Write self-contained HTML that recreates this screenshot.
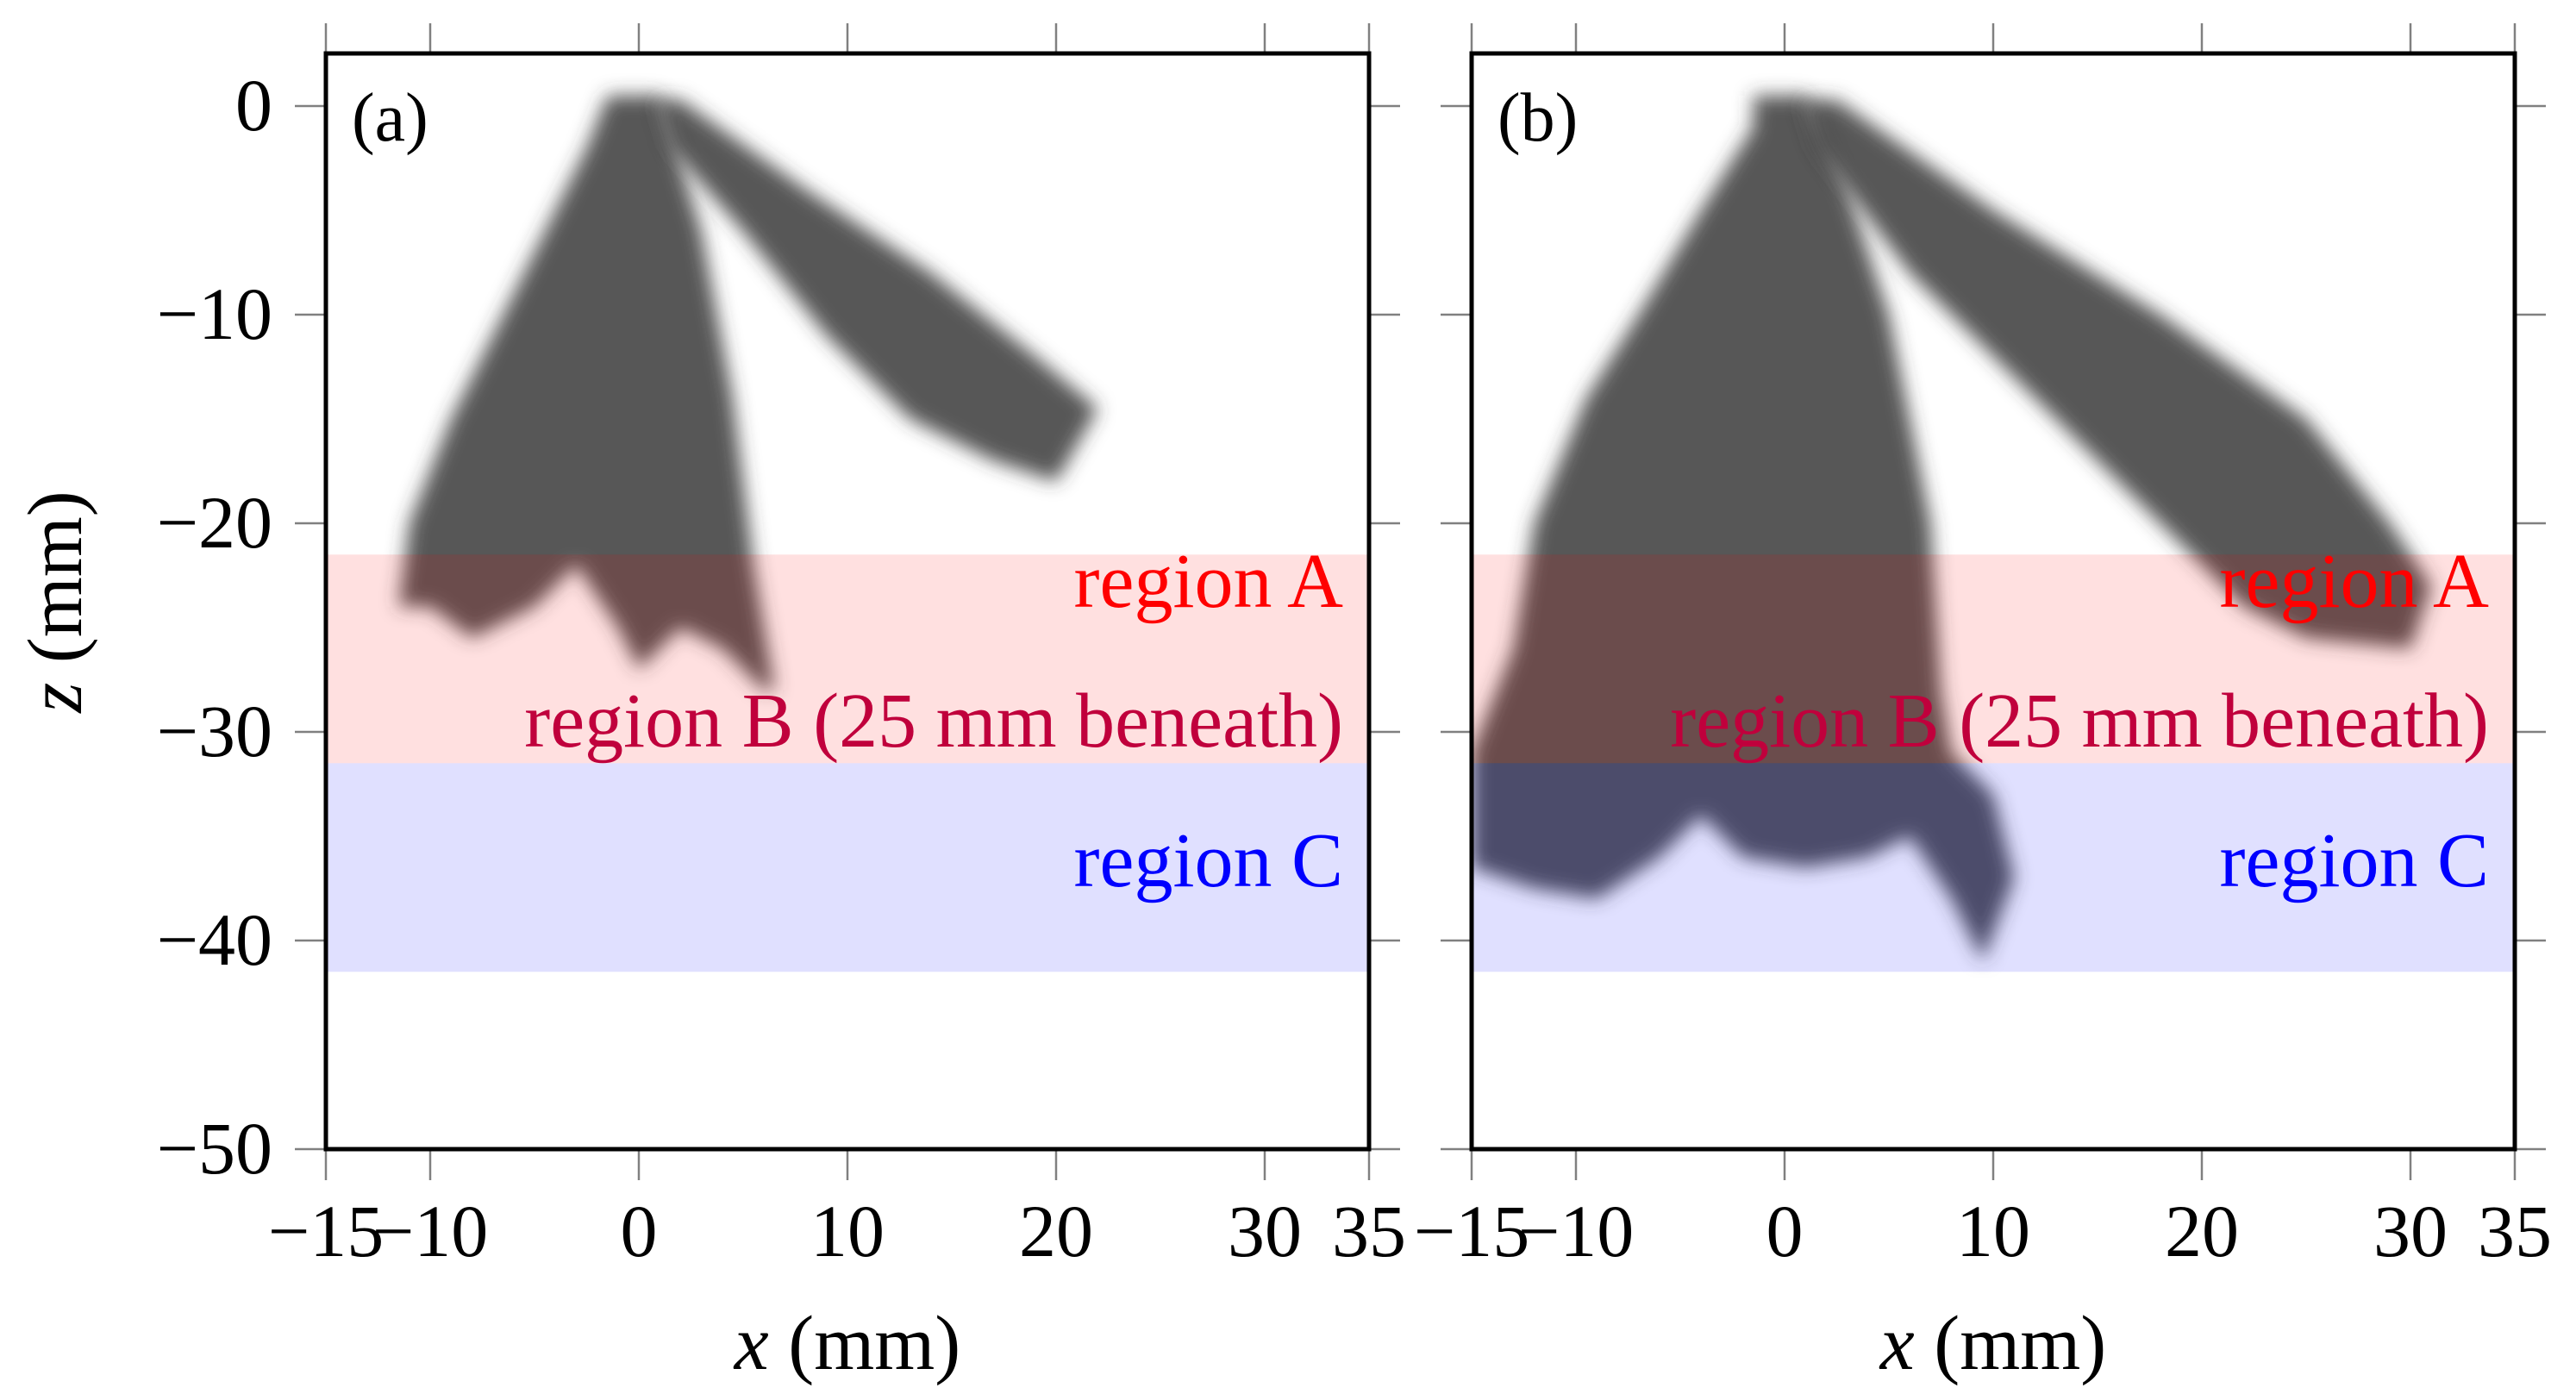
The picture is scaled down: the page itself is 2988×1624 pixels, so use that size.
<!DOCTYPE html>
<html><head><meta charset="utf-8"><style>
html,body{margin:0;padding:0;background:#fff;}
svg{display:block;font-family:"Liberation Serif",serif;}
</style></head><body>
<svg id="fig" width="2988" height="1624" viewBox="0 0 2988 1624">
<defs>
<filter id="blur" x="-20%" y="-20%" width="140%" height="140%"><feGaussianBlur stdDeviation="11"/></filter>
<clipPath id="clipA"><rect x="378" y="62" width="1210" height="1271"/></clipPath>
<clipPath id="clipB"><rect x="1707" y="62" width="1210" height="1271"/></clipPath>
</defs>
</svg>
<script>
const xTicks=[-15,-10,0,10,20,30,35];
const zTicks=[0,-10,-20,-30,-40,-50];
const regionNames=["region A","region B (25 mm beneath)","region C"];
const regionTop=[-21.5,-21.5,-31.5];
const regionBottom=[-31.5,-31.5,-41.5];
const regionLabelZ=[-24,-30.7,-37.4];
const regionColors=["#ff0000","#c0003c","#0000ff"];
const panelLabels=["(a)","(b)"];
// plume outlines (mm): panel a
const plumeA1x=[-1.5,1,3,4.5,5.5,6.5,6,4,2,0,-1,-3,-5,-8,-10,-11.5,-11,-9,-5.5,-2.5];
const plumeA1z=[0.5,0.5,-6,-14,-22,-28,-28,-26,-25,-27,-25,-22,-24,-25.5,-24,-24,-20,-15,-8,-2];
const plumeA2x=[0.8,2,8,14,19,22,20,17,13,9,5,1.5];
const plumeA2z=[0.3,0.3,-4,-8,-12,-14.5,-18,-17,-15,-11,-6,-2];
// panel b
const plumeB1x=[-1.5,1,3,5,7,7.5,8,10,11,9.5,8,6,4,1,-2,-4,-6,-9,-12,-15,-15,-13,-12,-9.5,-7,-4,-1.5];
const plumeB1z=[0.5,0.5,-4,-10,-20,-28,-31,-33,-37,-41,-38,-35,-36,-36.5,-36,-34,-36,-38,-37.5,-36.5,-31,-26,-20,-14,-10,-5,-1];
const plumeB2x=[0.8,2.5,10,18,25,29,31,30,25,22,18,12,6,1.5];
const plumeB2z=[0.3,0.3,-5,-10,-15,-20,-23,-26,-25.5,-24,-20,-14,-8,-2];

const svg=document.getElementById('fig');
const NS='http://www.w3.org/2000/svg';
const panels=[{x0:378,clip:'clipA',plumes:[[plumeA1x,plumeA1z],[plumeA2x,plumeA2z]]},
              {x0:1707,clip:'clipB',plumes:[[plumeB1x,plumeB1z],[plumeB2x,plumeB2z]]}];
const PX=24.2, Y0=123, TOP=62, BOT=1333, W=1210;
function zy(z){return Y0-z*PX;}
function mk(tag,attrs,parent){const e=document.createElementNS(NS,tag);for(const k in attrs)e.setAttribute(k,attrs[k]);(parent||svg).appendChild(e);return e;}

panels.forEach((p,pi)=>{
  const xx=v=>p.x0+(v+15)*PX;
  const g=mk('g',{'clip-path':'url(#'+p.clip+')'});
  
  
  p.plumes.forEach((pl,k)=>{
    const pts=pl[0].map((v,i)=>xx(v).toFixed(1)+','+zy(pl[1][i]).toFixed(1)).join(' ');
    const poly=mk('polygon',{points:pts,fill:'#3a3a3a','fill-opacity':'0.85',filter:'url(#blur)'},g);
    
    
  });
  [[regionTop[0],regionBottom[0],'rgba(255,0,0,0.12)'],[regionTop[2],regionBottom[2],'rgba(0,0,255,0.12)']].forEach((r,k)=>{
    const rc=mk('rect',{x:p.x0,y:zy(r[0]),width:W,height:zy(r[1])-zy(r[0]),fill:r[2]},g);
    
    
  });
  xTicks.forEach(t=>{
    const X=xx(t);
    mk('line',{x1:X,x2:X,y1:TOP-35,y2:TOP,stroke:'#808080','stroke-width':2.5});
    mk('line',{x1:X,x2:X,y1:BOT,y2:BOT+36,stroke:'#808080','stroke-width':2.5});
    const tx=mk('text',{x:X,y:1457,'font-size':86,'text-anchor':'middle'});
    tx.textContent=t<0?'\u2212'+(-t):String(t);
    
    
  });
  zTicks.forEach(t=>{
    const Y=zy(t);
    mk('line',{x1:p.x0-36,x2:p.x0,y1:Y,y2:Y,stroke:'#808080','stroke-width':2.5});
    mk('line',{x1:p.x0+W,x2:p.x0+W+36,y1:Y,y2:Y,stroke:'#808080','stroke-width':2.5});
  });
  const fr=mk('rect',{x:p.x0,y:TOP,width:W,height:BOT-TOP,fill:'none',stroke:'#000','stroke-width':5});
  
  
  const pl=mk('text',{x:p.x0+30,y:163,'font-size':80});
  pl.textContent=panelLabels[pi];
  
  
  regionNames.forEach((n,k)=>{
    const t=mk('text',{x:p.x0+W-30,y:zy(regionLabelZ[k]),'font-size':90,'text-anchor':'end',fill:regionColors[k]});
    t.textContent=n;
    
    
  });
  const xl=mk('text',{x:p.x0+W/2,y:1588,'font-size':90,'text-anchor':'middle'});
  xl.innerHTML='<tspan font-style="italic">x</tspan> (mm)';
  
  
});
zTicks.forEach(t=>{
  const yl=mk('text',{x:316,y:zy(t)+28,'font-size':86,'text-anchor':'end'});
  yl.textContent=t<0?'\u2212'+(-t):String(t);
  
  
});
const yt=mk('text',{x:0,y:0,'font-size':90,'text-anchor':'middle',transform:'translate(94,698) rotate(-90)'});
yt.innerHTML='<tspan font-style="italic">z</tspan> (mm)';


</script>
</body></html>
